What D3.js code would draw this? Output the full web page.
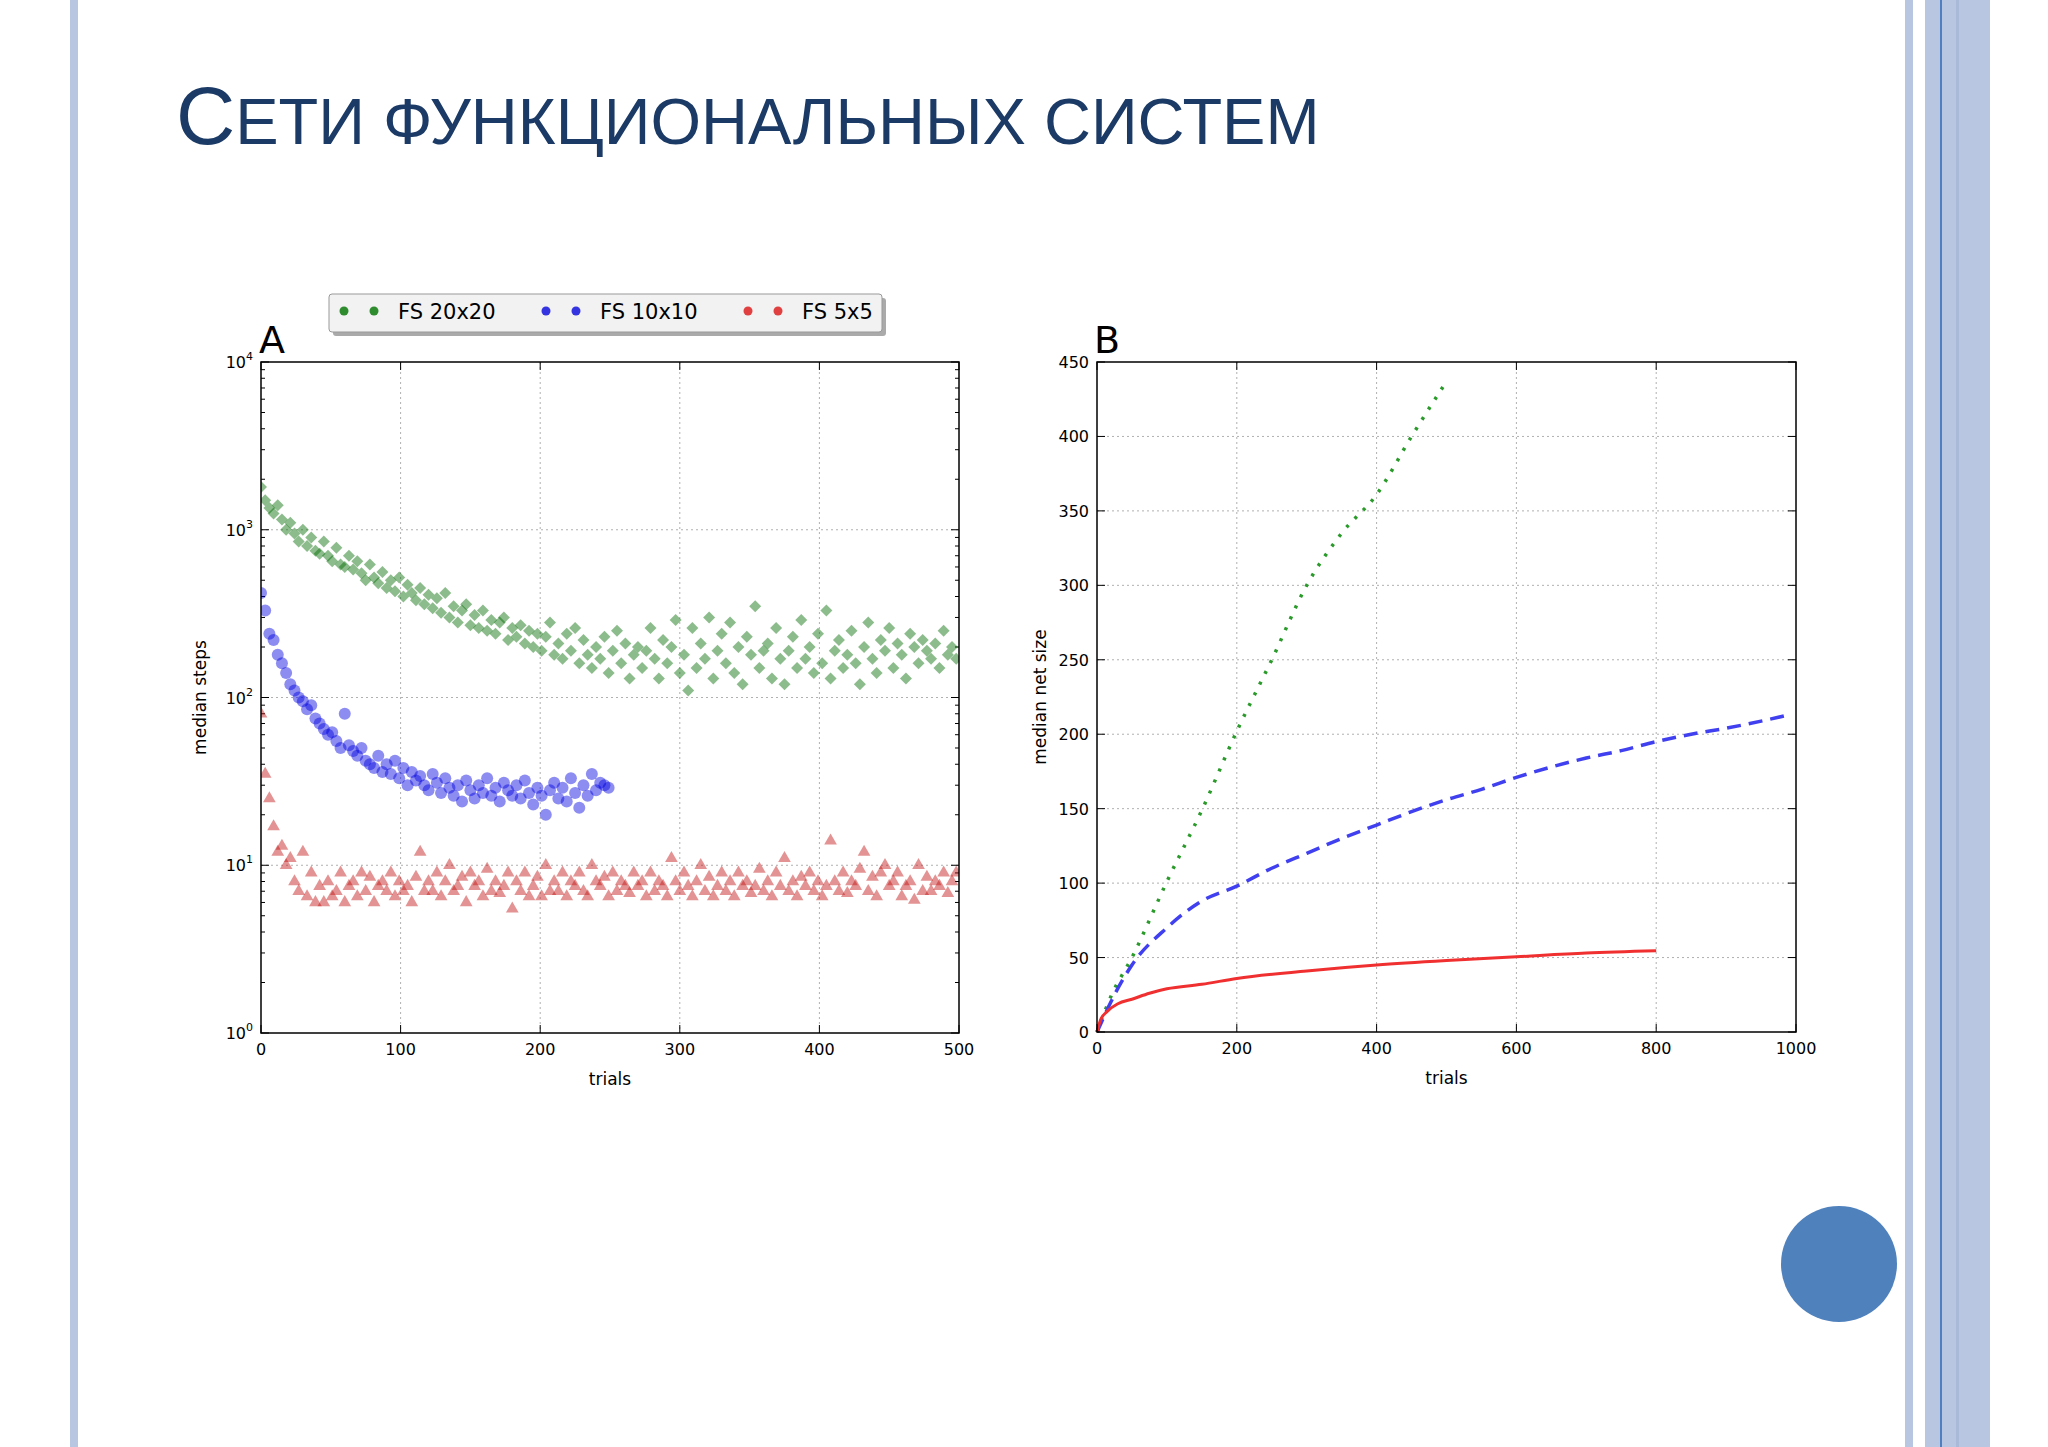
<!DOCTYPE html>
<html><head><meta charset="utf-8">
<script src="https://cdn.jsdelivr.net/npm/d3@7"></script>
<style>body{margin:0;background:#fff}svg{display:block}</style></head>
<body><svg id="c" width="2048" height="1447"></svg>
<script>
const titleText = "Сети функциональных систем";
const legendLabels = ["FS 20x20","FS 10x10","FS 5x5"];
const trialStep = 3;
const green20 = [1800,1500,1350,1250,1400,1150,1000,1100,950,850,1000,
800,900,750,720,850,700,650,780,620,600,
700,580,650,550,500,620,520,480,560,450,
500,430,520,400,470,420,380,450,360,410,
340,390,320,420,300,350,280,330,360,270,
310,260,330,250,290,240,280,300,220,260,
230,270,210,250,200,240,190,230,280,180,
210,170,240,190,260,160,220,180,150,200,
170,230,140,190,250,160,210,130,180,200,
150,190,260,170,130,220,160,200,290,140,
180,110,260,150,210,170,300,130,190,240,
160,280,140,200,120,230,180,350,150,190,
210,130,260,170,120,190,230,150,290,170,
200,140,240,160,330,130,190,220,150,180,
250,160,120,200,280,170,140,220,190,260,
150,210,180,130,240,200,160,220,190,170,
210,150,250,180,200,170];
const blue10 = [420,330,240,220,180,160,140,120,110,100,95,
85,90,75,70,65,60,62,55,50,80,
52,48,45,50,42,40,38,45,36,40,
35,42,33,38,30,36,32,34,30,28,
35,31,27,33,29,26,30,24,32,28,
25,30,27,33,26,29,24,31,28,26,
30,25,32,27,23,29,26,20,28,31,
25,29,24,33,27,22,30,26,35,28,
31,30,29];
const red5 = [80,35,25,17,12,13,10,11,8,7,12,
6.5,9,6,7.5,6,8,6.5,7,9,6,
7.5,8,6.5,9,7,8.5,6,7.5,8,7,
9,6.5,8,7,7.5,6,8.5,12,7,8,
7,9,6.5,8,10,7,7.5,8.5,6,9,
7.5,8,6.5,9.5,7,8,6.8,7.5,9,5.5,
8,7,9,6.5,7.5,8.5,6.5,10,7,8,
7,9,6.5,8,7.5,9,7,6.5,10,8,
7.5,8.5,6.5,9,7,8,7.5,6.8,9,7.5,
8,6.5,9,7,8,7.5,6.5,11,8,7,
9,7.5,6.5,8,10,7,8.5,6.5,7.5,9,
7,8,6.5,9,7.5,8,6.8,7.5,9.5,7,
8,6.5,9,7.5,11,7,8,6.5,8.5,7.5,
9,7,8,6.5,7.5,14,8,7,9,6.8,
8,7.5,9.5,12,7,8.5,6.5,9,10,7.5,
8,9,6.5,7.5,8,6.2,10,7,8.5,7,
8,7.5,9,6.8,8,9];
const bTrials = {
  green:[0,20,50,100,150,200,250,300,350,400,450,500],
  blue:[0,25,50,100,150,200,250,300,350,400,450,500,550,600,650,700,750,800,850,900,990],
  red:[0,5,15,30,50,75,100,150,200,300,400,500,600,700,800]};
const bValues = {
  green:[0,24,50,101,149,202,250,300,335,361,400,437],
  blue:[0,25,45,70,88,98,110,120,130,139,148,156,163,171,178,184,189,195,200,204,213],
  red:[0,8,14,19,22,26,29,32,36,41,45,48,50.5,53,54.5]};
const xTicksA=[0,100,200,300,400,500], yExpA=[0,1,2,3,4];
const xTicksB=[0,200,400,600,800,1000], yTicksB=[0,50,100,150,200,250,300,350,400,450];

const svg=d3.select("#c");
const F="DejaVu Sans";
svg.append("rect").attr("x",70).attr("y",0).attr("width",8).attr("height",1447).attr("fill","#b8c6e2");
svg.append("rect").attr("x",1905).attr("y",0).attr("width",8).attr("height",1447).attr("fill","#b8c6e2");
svg.append("rect").attr("x",1925).attr("y",0).attr("width",65).attr("height",1447).attr("fill","#b8c6e2");
svg.append("rect").attr("x",1940).attr("y",0).attr("width",2).attr("height",1447).attr("fill","#4f7fc0");
svg.append("rect").attr("x",1956).attr("y",0).attr("width",3).attr("height",1447).attr("fill","#a9b9d8");
svg.append("circle").attr("cx",1839).attr("cy",1264).attr("r",58).attr("fill","#4f81bd");
const t=svg.append("text").attr("x",176).attr("y",144).attr("fill","#1b3a66").attr("font-family","Liberation Sans");
t.append("tspan").attr("font-size",82).text(titleText[0].toUpperCase());
t.append("tspan").attr("font-size",65).text(titleText.slice(1).toUpperCase());

function frame(g,x0,x1,y0,y1){
  g.append("rect").attr("x",x0).attr("y",y0).attr("width",x1-x0).attr("height",y1-y0).attr("fill","none").attr("stroke","#000").attr("stroke-width",1.5);
}
const A={l:261,r:959,t:362,b:1033};
const xA=d3.scaleLinear().domain([0,500]).range([A.l,A.r]);
const yA=d3.scaleLog().domain([1,1e4]).range([A.b,A.t]);
const gA=svg.append("g");
const grid="#b0b0b0";
xTicksA.slice(1,-1).forEach(v=>gA.append("line").attr("x1",xA(v)).attr("x2",xA(v)).attr("y1",A.t).attr("y2",A.b).attr("stroke",grid).attr("stroke-dasharray","2,3"));
yExpA.slice(1,-1).forEach(e=>gA.append("line").attr("x1",A.l).attr("x2",A.r).attr("y1",yA(10**e)).attr("y2",yA(10**e)).attr("stroke",grid).attr("stroke-dasharray","2,3"));
for(let e=0;e<4;e++)for(let m=2;m<10;m++){const y=yA(m*10**e);
  gA.append("line").attr("x1",A.l).attr("x2",A.l+4).attr("y1",y).attr("y2",y).attr("stroke","#000");
  gA.append("line").attr("x1",A.r).attr("x2",A.r-4).attr("y1",y).attr("y2",y).attr("stroke","#000");}
svg.append("clipPath").attr("id","ca").append("rect").attr("x",A.l).attr("y",A.t).attr("width",A.r-A.l).attr("height",A.b-A.t);
const pts=gA.append("g").attr("clip-path","url(#ca)");
pts.selectAll(".g").data(green20).join("path").attr("d",d3.symbol().type(d3.symbolSquare).size(72)())
  .attr("transform",(d,i)=>`translate(${xA(i*trialStep)},${yA(d)}) rotate(45)`).attr("fill","#006b00").attr("fill-opacity",0.45);
pts.selectAll(".b").data(blue10).join("circle").attr("cx",(d,i)=>xA(i*trialStep)).attr("cy",d=>yA(d)).attr("r",6).attr("fill","#0000e0").attr("fill-opacity",0.45);
pts.selectAll(".r").data(red5).join("path").attr("d",d3.symbol().type(d3.symbolTriangle).size(70)())
  .attr("transform",(d,i)=>`translate(${xA(i*trialStep)},${yA(d)})`).attr("fill","#c01010").attr("fill-opacity",0.45);
frame(gA,A.l,A.r,A.t,A.b);
gA.selectAll(".xt").data(xTicksA).join("text").attr("x",d=>xA(d)).attr("y",A.b+22).attr("text-anchor","middle").attr("font-family",F).attr("font-size",16).text(d=>d);
xTicksA.forEach(v=>{gA.append("line").attr("x1",xA(v)).attr("x2",xA(v)).attr("y1",A.b).attr("y2",A.b-8).attr("stroke","#000");gA.append("line").attr("x1",xA(v)).attr("x2",xA(v)).attr("y1",A.t).attr("y2",A.t+8).attr("stroke","#000");});
yExpA.forEach(e=>{const y=yA(10**e);
  gA.append("line").attr("x1",A.l).attr("x2",A.l+8).attr("y1",y).attr("y2",y).attr("stroke","#000");
  gA.append("line").attr("x1",A.r).attr("x2",A.r-8).attr("y1",y).attr("y2",y).attr("stroke","#000");
  const tt=gA.append("text").attr("x",A.l-8).attr("y",y+6).attr("text-anchor","end").attr("font-family",F).attr("font-size",16);
  tt.append("tspan").text("10");tt.append("tspan").attr("font-size",11).attr("dy",-8).text(e);});
gA.append("text").attr("x",(A.l+A.r)/2).attr("y",A.b+52).attr("text-anchor","middle").attr("font-family",F).attr("font-size",17).text("trials");
gA.append("text").attr("transform",`translate(${206},${(A.t+A.b)/2}) rotate(-90)`).attr("text-anchor","middle").attr("font-family",F).attr("font-size",17).text("median steps");
gA.append("text").attr("x",259).attr("y",353).attr("font-family",F).attr("font-size",38).text("A");
const lg=svg.append("g");
lg.append("rect").attr("x",333).attr("y",298).attr("width",553).attr("height",38).attr("fill","#aaa").attr("rx",3);
lg.append("rect").attr("x",329).attr("y",294).attr("width",553).attr("height",38).attr("fill","#f2f2f2").attr("stroke","#999").attr("rx",3);
const lc=["#2e8b2e","#3434e0","#e04040"], lx=[344,546,748];
legendLabels.forEach((s,i)=>{
  [0,30].forEach(o=>lg.append("circle").attr("cx",lx[i]+o).attr("cy",311).attr("r",4.5).attr("fill",lc[i]));
  lg.append("text").attr("x",lx[i]+54).attr("y",319).attr("font-family",F).attr("font-size",21).text(s);});
const B={l:1097,r:1796,t:362,b:1032};
const xB=d3.scaleLinear().domain([0,1000]).range([B.l,B.r]);
const yB=d3.scaleLinear().domain([0,450]).range([B.b,B.t]);
const gB=svg.append("g");
xTicksB.slice(1,-1).forEach(v=>gB.append("line").attr("x1",xB(v)).attr("x2",xB(v)).attr("y1",B.t).attr("y2",B.b).attr("stroke",grid).attr("stroke-dasharray","2,3"));
yTicksB.slice(1,-1).forEach(v=>gB.append("line").attr("x1",B.l).attr("x2",B.r).attr("y1",yB(v)).attr("y2",yB(v)).attr("stroke",grid).attr("stroke-dasharray","2,3"));
const line=d3.line().curve(d3.curveMonotoneX);
const styles={green:{c:"#2a9a2a",d:"3,9",w:3.5},blue:{c:"#4040f0",d:"14,8",w:3.5},red:{c:"#f03030",d:null,w:3}};
["green","blue","red"].forEach(k=>{
  const p=gB.append("path").attr("d",line(bTrials[k].map((t,i)=>[xB(t),yB(bValues[k][i])]))).attr("fill","none")
   .attr("stroke",styles[k].c).attr("stroke-width",styles[k].w);
  if(styles[k].d)p.attr("stroke-dasharray",styles[k].d);});
frame(gB,B.l,B.r,B.t,B.b);
xTicksB.forEach(v=>{gB.append("line").attr("x1",xB(v)).attr("x2",xB(v)).attr("y1",B.b).attr("y2",B.b-8).attr("stroke","#000");gB.append("line").attr("x1",xB(v)).attr("x2",xB(v)).attr("y1",B.t).attr("y2",B.t+8).attr("stroke","#000");});
yTicksB.forEach(v=>{gB.append("line").attr("x1",B.l).attr("x2",B.l+8).attr("y1",yB(v)).attr("y2",yB(v)).attr("stroke","#000");gB.append("line").attr("x1",B.r).attr("x2",B.r-8).attr("y1",yB(v)).attr("y2",yB(v)).attr("stroke","#000");});
gB.selectAll(".xt").data(xTicksB).join("text").attr("x",d=>xB(d)).attr("y",B.b+22).attr("text-anchor","middle").attr("font-family",F).attr("font-size",16).text(d=>d);
gB.selectAll(".yt").data(yTicksB).join("text").attr("x",B.l-8).attr("y",d=>yB(d)+6).attr("text-anchor","end").attr("font-family",F).attr("font-size",16).text(d=>d);
gB.append("text").attr("x",(B.l+B.r)/2).attr("y",B.b+52).attr("text-anchor","middle").attr("font-family",F).attr("font-size",17).text("trials");
gB.append("text").attr("transform",`translate(${1046},${(B.t+B.b)/2}) rotate(-90)`).attr("text-anchor","middle").attr("font-family",F).attr("font-size",17).text("median net size");
gB.append("text").attr("x",1094).attr("y",353).attr("font-family",F).attr("font-size",38).text("B");
</script></body></html>
